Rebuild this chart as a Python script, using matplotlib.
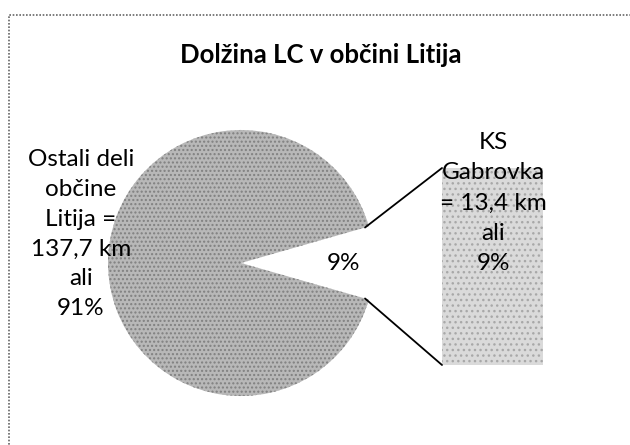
import matplotlib
matplotlib.use("Agg")
import matplotlib.pyplot as plt
import numpy as np
from matplotlib.patches import ConnectionPatch, Rectangle

plt.rcParams['font.family'] = ['Lato', 'DejaVu Sans']

# data
title = "Dolžina LC v občini Litija"
categories = ["KS Gabrovka", "Ostali deli občine Litija"]
lengths_km = [13.4, 137.7]
shares = ["9%", "91%"]
bar_label = "KS\nGabrovka\n= 13,4 km\nali\n9%"
rest_label = "Ostali deli\nobčine\nLitija =\n137,7 km\nali\n91%"

W, H = 630, 445
fig = plt.figure(figsize=(W / 100, H / 100), dpi=100)

def px_axes(x0, y0, x1, y1):
    # pixel box (top-left origin) -> figure axes
    return fig.add_axes([x0 / W, 1 - y1 / H, (x1 - x0) / W, (y1 - y0) / H])

# chart frame (cut at right and bottom like the scan)
fig.patches.append(Rectangle((9 / W, -0.1), 1.2, 1.1 - 15 / H, transform=fig.transFigure,
                             fill=False, ec='#666666', lw=1.2, ls=(0, (1, 1))))

fig.text(321 / W, 1 - 55 / H, title, ha='center', va='center', fontsize=18.5, fontweight='bold')

# pie
ax = px_axes(241 - 133, 263 - 133, 241 + 133, 263 + 133)
total = sum(lengths_km)
start = -180 * lengths_km[0] / total
wedges, _ = ax.pie(lengths_km, startangle=start, radius=1, counterclock=True,
                   colors=['none', '#b8b8b8'],
                   wedgeprops=dict(edgecolor='none', hatch='....', linewidth=0))
wedges[1].set_edgecolor('#808080')
wedges[0].set_visible(False)
ax.set_xlim(-1, 1)
ax.set_ylim(-1, 1)
ax.set_aspect('equal')
ax.axis('off')
ax.text(0.77, 0, shares[0], ha='center', va='center', fontsize=17.5)

# bar for the pulled-out slice
bax = px_axes(442, 168, 543, 365)
bax.bar([0], [lengths_km[0]], width=1, color='#dadada', edgecolor='#a8a8a8',
        hatch='...', linewidth=0)
bax.set_xlim(-0.5, 0.5)
bax.set_ylim(0, lengths_km[0])
bax.axis('off')

# connector lines
small = wedges[0]
for ang, yb in [(small.theta2, lengths_km[0]), (small.theta1, 0)]:
    r = 0.97
    p = (r * np.cos(np.radians(ang)), r * np.sin(np.radians(ang)))
    con = ConnectionPatch(xyA=p, coordsA=ax.transData, xyB=(-0.5, yb), coordsB=bax.transData,
                          color='black', lw=1.3)
    fig.add_artist(con)

fig.text(493 / W, 1 - 203 / H, bar_label, ha='center', va='center', fontsize=17.5, linespacing=1.55)
fig.text(81 / W, 1 - 234 / H, rest_label, ha='center', va='center', fontsize=17.5, linespacing=1.52)

fig.savefig("out.png", dpi=100)
